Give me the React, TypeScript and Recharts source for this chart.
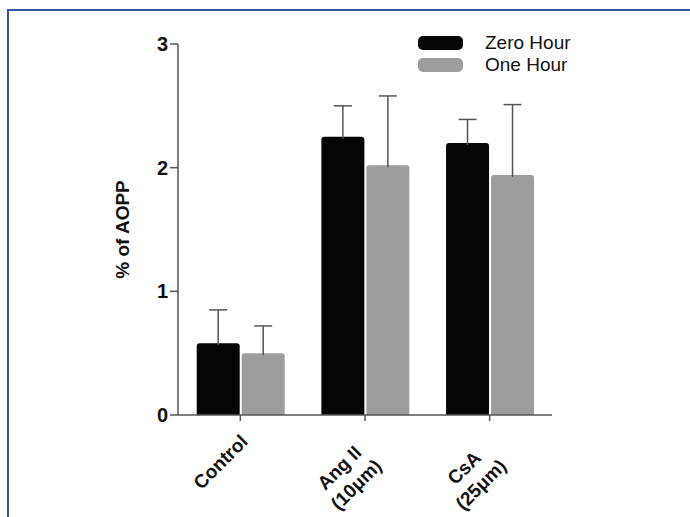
import React from 'react';
import { BarChart, Bar, XAxis, YAxis } from 'recharts';

const categories = ['Control', 'Ang II\n(10μm)', 'CsA\n(25μm)'];
const zeroHour = [0.58, 2.25, 2.2];
const zeroHourErr = [0.27, 0.25, 0.19];
const oneHour = [0.5, 2.02, 1.94];
const oneHourErr = [0.22, 0.56, 0.57];
const yTicks = [0, 1, 2, 3];

const seriesInfo = [
  { key: 'zero', errKey: 'zeroErr', name: 'Zero Hour', color: '#050505' },
  { key: 'one', errKey: 'oneErr', name: 'One Hour', color: '#9d9d9f' },
];

const data = categories.map((c, i) => ({
  name: c,
  zero: zeroHour[i],
  zeroErr: zeroHourErr[i],
  one: oneHour[i],
  oneErr: oneHourErr[i],
}));

const FONT = '"Liberation Sans", Arial, sans-serif';
const AXIS = '#555';

// bar with an upward-only error whisker, scaled from the bar's own height/value
function BarWithError(props: any) {
  const { x, y, width, height, fill, payload, errKey, dataKey } = props;
  const value = payload[dataKey];
  const pxPerUnit = value ? height / value : 0;
  const errTop = y - payload[errKey] * pxPerUnit;
  const cx = x + width / 2;
  const r = 3;
  const path = `M${x},${y + height} L${x},${y + r} Q${x},${y} ${x + r},${y} L${x + width - r},${y} Q${x + width},${y} ${x + width},${y + r} L${x + width},${y + height} Z`;
  return (
    <g>
      <path d={path} fill={fill} />
      <line x1={cx} y1={y + 2} x2={cx} y2={errTop} stroke={AXIS} strokeWidth={1.5} />
      <line x1={cx - 9} y1={errTop} x2={cx + 9} y2={errTop} stroke={AXIS} strokeWidth={1.5} />
    </g>
  );
}

function XTick(props: any) {
  const { x, y, payload } = props;
  const lines = String(payload.value).split('\n');
  const multi = lines.length > 1;
  return (
    <g transform={`translate(${x + 4},${y + 15})`}>
      <text
        transform="rotate(-45)"
        textAnchor={multi ? 'middle' : 'end'}
        fontFamily={FONT}
        fontWeight="bold"
        fontSize={19}
        fill="#111"
      >
        {lines.map((l, i) => (
          <tspan key={i} x={multi ? -42 : 0} dy={i === 0 ? '0.35em' : '1.25em'}>
            {l}
          </tspan>
        ))}
      </text>
    </g>
  );
}

export default function App() {
  return (
    <div style={{ position: 'absolute', left: 0, top: 0, width: 690, height: 517, background: '#fff', overflow: 'hidden' }}>
      <div style={{ position: 'absolute', left: 7, top: 9, right: 0, height: 2, background: '#3557a3' }} />
      <div style={{ position: 'absolute', left: 7, top: 9, bottom: 0, width: 2, background: '#3557a3' }} />
      <div style={{ position: 'absolute', left: 0, top: 0 }}>
        <BarChart
          width={690}
          height={517}
          data={data}
          margin={{ top: 44, right: 138, bottom: 22, left: 118 }}
          barCategoryGap="15%"
          barGap={2}
        >
          <XAxis
            dataKey="name"
            height={80}
            tick={<XTick />}
            tickLine={{ stroke: AXIS, strokeWidth: 1.5 }}
            tickSize={6}
            axisLine={{ stroke: AXIS, strokeWidth: 1.5 }}
            interval={0}
          />
          <YAxis
            width={60}
            domain={[0, 3]}
            ticks={yTicks}
            tickSize={8}
            tickLine={{ stroke: AXIS, strokeWidth: 1.5 }}
            axisLine={{ stroke: AXIS, strokeWidth: 1.5 }}
            tick={{ fontFamily: FONT, fontWeight: 'bold', fontSize: 20, fill: '#111' }}
            label={{
              value: '% of AOPP',
              angle: -90,
              position: 'insideLeft',
              offset: 0,
              dx: 4,
              style: { fontFamily: FONT, fontWeight: 'bold', fontSize: 19, fill: '#111', textAnchor: 'middle' },
            }}
          />
          {seriesInfo.map((s) => (
            <Bar
              key={s.key}
              dataKey={s.key}
              name={s.name}
              fill={s.color}
              isAnimationActive={false}
              shape={(p: any) => <BarWithError {...p} errKey={s.errKey} dataKey={s.key} />}
            />
          ))}
        </BarChart>
      </div>
      <div style={{ position: 'absolute', left: 418, top: 32, fontFamily: FONT, fontSize: 19, color: '#111' }}>
        {seriesInfo.map((s) => (
          <div key={s.key} style={{ display: 'flex', alignItems: 'center', height: 22 }}>
            <div style={{ width: 45, height: 14, borderRadius: 5, background: s.color, marginRight: 22 }} />
            <span>{s.name}</span>
          </div>
        ))}
      </div>
    </div>
  );
}
